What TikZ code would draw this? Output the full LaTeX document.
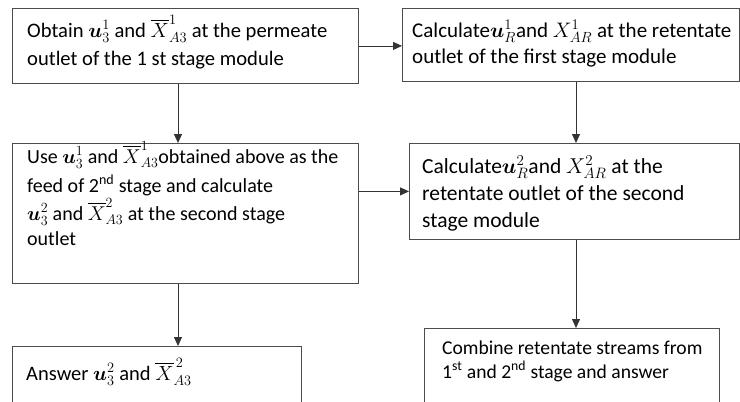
\documentclass[tikz,border=0pt]{standalone}
\usepackage{fix-cm}
\usepackage{amsmath}
\usepackage{fontspec}
\setmainfont{Carlito}
\usetikzlibrary{arrows.meta,calc}

\begin{document}
\begin{tikzpicture}[x=1pt,y=-1pt,
  box/.style={draw=black!70,line width=0.8pt,rectangle,inner sep=0pt,anchor=north west},
  lbl/.style={anchor=base west,inner sep=0pt,align=left},
  flow/.style={draw=black!80,line width=0.8pt,-{Triangle[length=9pt,width=8pt]}}]
\clip (0,0) rectangle (740,402);

% boxes
\node[box,minimum width=346pt,minimum height=75pt]  (b1) at (12,8) {};
\node[box,minimum width=337pt,minimum height=73pt]  (b2) at (402,8) {};
\node[box,minimum width=346pt,minimum height=140pt] (b3) at (12,143) {};
\node[box,minimum width=330pt,minimum height=96pt]  (b4) at (409,143) {};
\node[box,minimum width=289pt,minimum height=90pt]  (b5) at (12,346) {};
\node[box,minimum width=295pt,minimum height=100pt] (b6) at (424,328) {};

% texts (each placed at the baseline of its last line)
\node[lbl,font=\fontsize{20.6}{28}\selectfont] (t1) at (27,65)
  {Obtain $\boldsymbol{u}_3^1$ and $\overline{X}_{A3}^1$ at the permeate\\outlet of the 1 st stage module};
\node[lbl,font=\fontsize{21}{26}\selectfont] (t2) at (412,63)
  {Calculate$\boldsymbol{u}_R^1$and $X_{AR}^1$ at the retentate\\outlet of the first stage module};
\node[lbl,font=\fontsize{20}{28}\selectfont] (t3) at (27,245)
  {Use $\boldsymbol{u}_3^1$ and $\overline{X}_{A3}^1$obtained above as the\\[1pt]feed of 2\textsuperscript{nd} stage and calculate\\$\boldsymbol{u}_3^2$ and $\overline{X}_{A3}^2$ at the second stage\\[-3pt]outlet};
\node[lbl,font=\fontsize{21.5}{28}\selectfont] (t4) at (422,227)
  {Calculate$\boldsymbol{u}_R^2$and $X_{AR}^2$ at the\\[-1pt]retentate outlet of the second\\[-1pt]stage module};
\node[lbl,font=\fontsize{20.5}{28}\selectfont] (t5) at (26,380)
  {Answer $\boldsymbol{u}_3^2$ and $\overline{X}_{A3}^{\,2}$};
\node[lbl,font=\fontsize{19.6}{24}\selectfont] (t6) at (442,378)
  {Combine retentate streams from\\1\textsuperscript{st} and 2\textsuperscript{nd} stage and answer};

% connectors
\draw[flow] (b1.east) -- (b1.east -| b2.west);
\draw[flow] ($(b1.south west)+(166,0)$) coordinate (p1) -- (p1 |- b3.north);
\draw[flow] ($(b2.south west)+(174,0)$) coordinate (p2) -- (p2 |- b4.north);
\draw[flow] (b3.east |- b4.west) -- (b4.west);
\draw[flow] ($(b3.south west)+(166,0)$) coordinate (p3) -- (p3 |- b5.north);
\draw[flow] ($(b4.south west)+(167,0)$) coordinate (p4) -- (p4 |- b6.north);
\end{tikzpicture}
\end{document}
